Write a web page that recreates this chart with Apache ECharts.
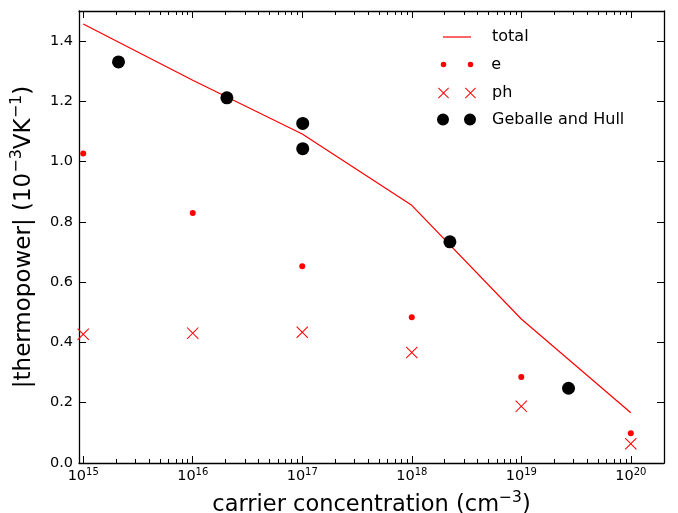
<!DOCTYPE html>
<html>
<head>
<meta charset="utf-8">
<script src="https://cdn.jsdelivr.net/npm/echarts@6/dist/echarts.min.js"></script>
<style>
  html, body { margin: 0; padding: 0; background: #fff; }
  #chart { width: 678px; height: 513px; }
</style>
</head>
<body>
<div id="chart"></div>
<script>
// carrier concentration (cm^-3)
const conc = [1e15, 1e16, 1e17, 1e18, 1e19, 1e20]
const totalVals = [1.457, 1.27, 1.092, 0.855, 0.478, 0.167]
const eVals = [1.027, 0.83, 0.653, 0.484, 0.285, 0.099]
const phVals = [0.427, 0.431, 0.434, 0.367, 0.188, 0.064]
// Geballe and Hull measurements
const ghConc = [2.1e15, 2.05e16, 1.01e17, 1.01e17, 2.23e18, 2.7e19]
const ghVals = [1.331, 1.212, 1.127, 1.043, 0.734, 0.248]
// ticks
const xMajor = [1e15, 1e16, 1e17, 1e18, 1e19, 1e20]
const xMinor = []
for (let p = 14; p <= 20; p++) {
  for (let m = 2; m <= 9; m++) xMinor.push(m * Math.pow(10, p))
}
const yTicks = [0, 0.2, 0.4, 0.6, 0.8, 1.0, 1.2, 1.4]

const X_MIN = 9.15e14
const X_MAX = 2.01e20
const RED = '#ff0000'
const FONT = 'DejaVu Sans'

// x marker made of thin filled bars
const crossPath = 'path://M0,0.6 L0.6,0 L5,4.4 L9.4,0 L10,0.6 L5.6,5 L10,9.4 L9.4,10 L5,5.6 L0.6,10 L0,9.4 L4.4,5 Z'
const twoCross = 'path://M0,0.6 L0.6,0 L5,4.4 L9.4,0 L10,0.6 L5.6,5 L10,9.4 L9.4,10 L5,5.6 L0.6,10 L0,9.4 L4.4,5 Z ' +
  'M24.5,0.6 L25.1,0 L29.5,4.4 L33.9,0 L34.5,0.6 L30.1,5 L34.5,9.4 L33.9,10 L29.5,5.6 L25.1,10 L24.5,9.4 L28.9,5 Z'
const twoDots = 'path://M0,2.75 A2.75,2.75 0 1,0 5.5,2.75 A2.75,2.75 0 1,0 0,2.75 Z M27,2.75 A2.75,2.75 0 1,0 32.5,2.75 A2.75,2.75 0 1,0 27,2.75 Z'
const twoBig = 'path://M0,6 A6,6 0 1,0 12,6 A6,6 0 1,0 0,6 Z M27,6 A6,6 0 1,0 39,6 A6,6 0 1,0 27,6 Z'

// rich text styles with superscript
function supStyles(F, f, P, family) {
  return {
    b: { fontSize: F, lineHeight: F, fontFamily: family || FONT, color: '#000' },
    s: { fontSize: f, lineHeight: f, fontFamily: family || FONT, color: '#000', padding: [0, 0, P, 0] }
  }
}

const chart = echarts.init(document.getElementById('chart'))

function xAxisCfg(pos, major, showLine) {
  return {
    type: 'log',
    logBase: 10,
    position: pos,
    min: X_MIN,
    max: X_MAX,
    axisLine: { show: showLine, lineStyle: { color: '#000', width: 1.3 } },
    axisTick: {
      show: true,
      inside: true,
      length: major ? 7 : 4,
      customValues: major ? xMajor : xMinor,
      lineStyle: { color: '#000', width: 1 }
    },
    axisLabel: { show: false },
    splitLine: { show: false },
    minorTick: { show: false }
  }
}

const xBottom = xAxisCfg('bottom', true, true)
xBottom.axisLabel = {
  show: true,
  customValues: xMajor,
  margin: 6,
  formatter: (v) => '{b|10}{s|' + Math.round(Math.log10(v)) + '}',
  rich: supStyles(14.5, 10, 8)
}
xBottom.name = '{b|carrier concentration (cm}{s|−3}{b|)}'
xBottom.nameLocation = 'middle'
xBottom.nameGap = 30
xBottom.nameTextStyle = { rich: supStyles(22.5, 15.5, 14) }

const option = {
  animation: false,
  backgroundColor: '#fff',
  grid: { left: 79, right: 14, top: 11, bottom: 50, outerBoundsMode: 'none', containLabel: false },
  xAxis: [
    xBottom,
    xAxisCfg('bottom', false, false),
    xAxisCfg('top', true, true),
    xAxisCfg('top', false, false)
  ],
  yAxis: [
    {
      type: 'value',
      position: 'left',
      min: 0,
      max: 1.5,
      axisLine: { show: true, lineStyle: { color: '#000', width: 1.3 } },
      axisTick: { show: true, inside: true, length: 7, customValues: yTicks, lineStyle: { color: '#000' } },
      axisLabel: {
        customValues: yTicks,
        fontSize: 14.5,
        fontFamily: FONT,
        color: '#000',
        margin: 6,
        formatter: (v) => v.toFixed(1)
      },
      splitLine: { show: false },
      name: '{b||thermopower| (10}{s|−3}{b|VK}{s|−1}{b|)}',
      nameLocation: 'middle',
      nameRotate: 90,
      nameGap: 40,
      nameTextStyle: { rich: supStyles(23, 16, 14) }
    },
    {
      type: 'value',
      position: 'right',
      min: 0,
      max: 1.5,
      axisLine: { show: true, lineStyle: { color: '#000', width: 1.3 } },
      axisTick: { show: true, inside: true, length: 7, customValues: yTicks, lineStyle: { color: '#000' } },
      axisLabel: { show: false },
      splitLine: { show: false }
    }
  ],
  legend: [
    {
      left: 438, top: 24, itemWidth: 28, itemHeight: 12,
      icon: 'path://M0,5.4 L28,5.4 L28,6.6 L0,6.6 Z',
      textStyle: { fontSize: 16, fontFamily: FONT, color: '#000', padding: [0, 0, 0, 16] },
      data: ['total']
    },
    {
      left: 435.75, top: 51.5, itemWidth: 32.5, itemHeight: 5.5,
      icon: twoDots,
      textStyle: { fontSize: 16, fontFamily: FONT, color: '#000', padding: [0, 0, 0, 13] },
      data: ['e']
    },
    {
      left: 433, top: 80, itemWidth: 38, itemHeight: 11,
      icon: twoCross,
      textStyle: { fontSize: 16, fontFamily: FONT, color: '#000', padding: [0, 0, 0, 11] },
      data: ['ph']
    },
    {
      left: 432, top: 106.5, itemWidth: 39, itemHeight: 12,
      icon: twoBig,
      textStyle: { fontSize: 16, fontFamily: FONT, color: '#000', padding: [0, 0, 0, 11] },
      data: ['Geballe and Hull']
    }
  ],
  series: [
    {
      name: 'total',
      type: 'line',
      data: conc.map((c, i) => [c, totalVals[i]]),
      showSymbol: false,
      symbol: 'none',
      lineStyle: { color: RED, width: 1.2 },
      itemStyle: { color: RED },
      z: 2
    },
    {
      name: 'e',
      type: 'scatter',
      data: conc.map((c, i) => [c, eVals[i]]),
      symbol: 'circle',
      symbolSize: 6,
      itemStyle: { color: RED, opacity: 1 },
      z: 3
    },
    {
      name: 'ph',
      type: 'scatter',
      data: conc.map((c, i) => [c, phVals[i]]),
      symbol: crossPath,
      symbolSize: 12,
      itemStyle: { color: RED, opacity: 1 },
      z: 3
    },
    {
      name: 'Geballe and Hull',
      type: 'scatter',
      data: ghConc.map((c, i) => [c, ghVals[i]]),
      symbol: 'circle',
      symbolSize: 13,
      itemStyle: { color: '#000', opacity: 1 },
      z: 4
    }
  ]
}

chart.setOption(option)
</script>
</body>
</html>
